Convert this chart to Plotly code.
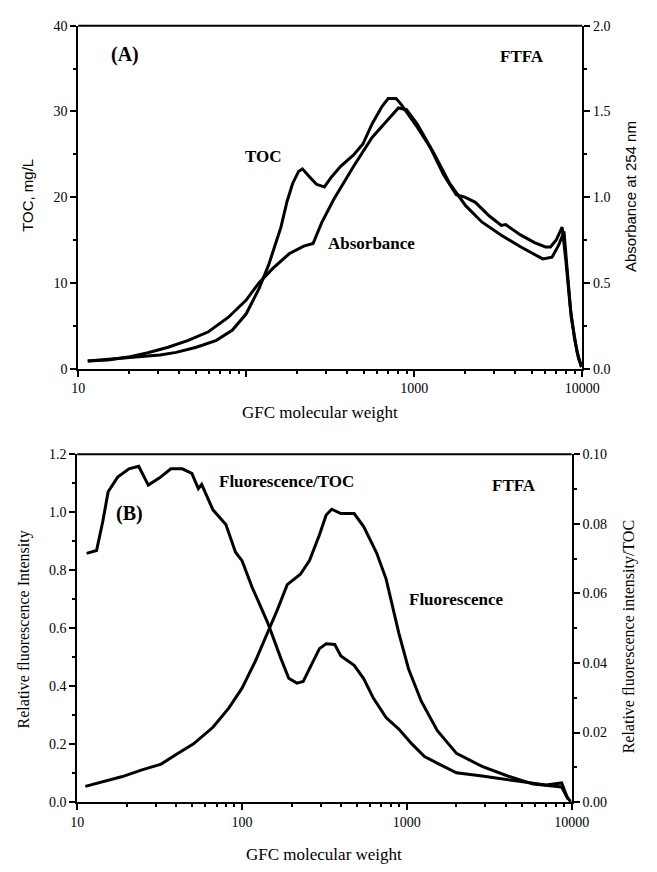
import plotly.graph_objects as go

# ---------------- Panel A data ----------------
toc_mw = [11.4, 15.8, 22, 30.7, 38.3, 50.5, 66.5, 82.8, 100, 119, 136, 152, 161, 175, 189, 205, 216,
          240, 262, 292, 320, 365, 434, 495, 563, 644, 700, 780, 838, 1047, 1245, 1496, 1778, 2000,
          2312, 2800, 3300, 3500, 4290, 5200, 6040, 6470, 7000, 7590, 8000, 8500, 9000, 9500, 9900]
toc_val = [0.9, 1.1, 1.35, 1.6, 1.9, 2.5, 3.3, 4.5, 6.4, 9.3, 12.1, 15.0, 16.5, 19.5, 21.6, 23.0, 23.3,
           22.3, 21.5, 21.2, 22.3, 23.6, 24.9, 26.2, 28.6, 30.6, 31.5, 31.5, 30.8, 28.1, 25.8, 22.6, 20.3, 20.0,
           19.4, 17.8, 16.7, 16.8, 15.6, 14.7, 14.2, 14.2, 15.0, 16.5, 12.5, 7.0, 3.5, 1.2, 0.2]

abs_mw = [11.4, 15, 19.8, 26, 34.3, 45.2, 59.6, 78.4, 100, 119, 144, 180, 220, 250, 281, 331, 434, 563,
          680, 805, 900, 1047, 1313, 1625, 2028, 2535, 3300, 4290, 5820, 6610, 7240, 7790, 8100, 8600,
          9300, 9900]
abs_val = [0.045, 0.05, 0.0675, 0.0925, 0.125, 0.165, 0.215, 0.30, 0.40, 0.50, 0.585, 0.67, 0.715, 0.73,
           0.85, 0.985, 1.177, 1.35, 1.44, 1.52, 1.51, 1.424, 1.253, 1.08, 0.949, 0.854, 0.778, 0.711,
           0.64, 0.65, 0.72, 0.80, 0.60, 0.30, 0.10, 0.01]

# ---------------- Panel B data ----------------
fl_mw = [11.2, 14.3, 18.8, 24.7, 32.3, 40.5, 50.8, 66.6, 83.3, 100, 120, 143, 164, 188, 226, 257, 295,
         324, 350, 398, 479, 547, 655, 748, 894, 1023, 1223, 1528, 2000, 2860, 4090, 5850, 7630, 8700,
         9300, 9900]
fl_val = [0.054, 0.071, 0.088, 0.111, 0.131, 0.167, 0.201, 0.258, 0.325, 0.393, 0.484, 0.585, 0.664,
          0.750, 0.786, 0.834, 0.922, 0.99, 1.01, 0.995, 0.995, 0.95, 0.86, 0.77, 0.583, 0.46, 0.348,
          0.247, 0.168, 0.123, 0.09, 0.062, 0.055, 0.052, 0.02, 0.0]

ft_mw = [11.4, 13.1, 14.3, 15.4, 17.6, 20.6, 23.6, 27, 31.6, 37, 43.4, 49.6, 54.3, 56.9, 66.6, 79.8,
         91.3, 100, 115, 143, 172, 192, 215, 235, 269, 295, 324, 365, 398, 479, 547, 626, 748, 894,
         1069, 1279, 1528, 2000, 2860, 4470, 6990, 8700, 9500]
ft_val = [0.0715, 0.0723, 0.0807, 0.0892, 0.0934, 0.0958, 0.0965, 0.0911, 0.0932, 0.0958, 0.0958,
          0.0945, 0.0901, 0.0913, 0.084, 0.0798, 0.0718, 0.0694, 0.0618, 0.0516, 0.0413, 0.0356, 0.0342,
          0.0347, 0.0403, 0.0441, 0.0455, 0.0453, 0.042, 0.0393, 0.0355, 0.0299, 0.0243, 0.021, 0.0168,
          0.0131, 0.0112, 0.0084, 0.0075, 0.0061, 0.0049, 0.0055, 0.0008]

x_major = [10, 100, 1000, 10000]
xa_text = ["10", "", "1000", "10000"]
xb_text = ["10", "100", "1000", "10000"]
x_minor = [m * d for d in (10, 100, 1000) for m in range(2, 10)]

W, H = 657, 872
SERIF = "Liberation Serif"
SANS = "Liberation Sans"
LINE = dict(color="black", width=3)

fig = go.Figure()
fig.add_trace(go.Scatter(x=toc_mw, y=toc_val, mode="lines", line=LINE, xaxis="x", yaxis="y", name="TOC"))
fig.add_trace(go.Scatter(x=abs_mw, y=abs_val, mode="lines", line=LINE, xaxis="x", yaxis="y2", name="Absorbance"))
fig.add_trace(go.Scatter(x=fl_mw, y=fl_val, mode="lines", line=LINE, xaxis="x2", yaxis="y3", name="Fluorescence"))
fig.add_trace(go.Scatter(x=ft_mw, y=ft_val, mode="lines", line=LINE, xaxis="x2", yaxis="y4", name="Fluorescence/TOC"))

def px(x):
    return x / W

def py(y):
    return 1 - y / H

tickfont = dict(family=SERIF, size=14, color="black")

def xaxis(dom, anchor, text):
    return dict(type="log", range=[1, 4], domain=dom, anchor=anchor,
                tickmode="array", tickvals=x_major, ticktext=text,
                ticks="outside", ticklen=6, tickwidth=1.5, tickcolor="black",
                minor=dict(tickmode="array", tickvals=x_minor, ticks="outside", ticklen=3,
                           tickwidth=1.5, tickcolor="black"),
                showline=True, linewidth=2, linecolor="black", mirror=False,
                showgrid=False, zeroline=False, tickfont=tickfont)

def yaxis(dom, anchor, rng, dtick, mdtick, fmt, side="left", overlay=None):
    d = dict(range=rng, domain=dom, anchor=anchor, side=side,
             tickmode="linear", tick0=0, dtick=dtick, tickformat=fmt,
             ticks="outside", ticklen=6, tickwidth=1.5, tickcolor="black",
             minor=dict(dtick=mdtick, tick0=0, ticks="outside", ticklen=3, tickwidth=1.5, tickcolor="black"),
             showline=True, linewidth=2, linecolor="black",
             showgrid=False, zeroline=False, tickfont=tickfont)
    if overlay:
        d["overlaying"] = overlay
    return d

domA_x = [px(74), px(598)]
domA_y = [py(368), py(19)]
domB_x = [px(73), px(587)]
domB_y = [py(809), py(455)]

fig.update_layout(
    width=W, height=H,
    margin=dict(l=0, r=0, t=0, b=0),
    paper_bgcolor="white", plot_bgcolor="white",
    showlegend=False,
    xaxis=xaxis(domA_x, "y", xa_text),
    yaxis=yaxis(domA_y, "x", [0, 40], 10, 5, "d"),
    yaxis2=yaxis(domA_y, "x", [0, 2.0], 0.5, 0.25, ".1f", side="right", overlay="y"),
    xaxis2=xaxis(domB_x, "y3", xb_text),
    yaxis3=yaxis(domB_y, "x2", [0, 1.2], 0.2, 0.1, ".1f"),
    yaxis4=yaxis(domB_y, "x2", [0, 0.10], 0.02, 0.01, ".2f", side="right", overlay="y3"),
)

# top borders of the two frames
shapes = []
for dx, dy in ((domA_x, domA_y), (domB_x, domB_y)):
    shapes.append(dict(type="line", xref="paper", yref="paper", x0=dx[0], x1=dx[1], y0=dy[1], y1=dy[1],
                       line=dict(color="black", width=2)))
fig.update_layout(shapes=shapes)

def ann(x, y, text, size=14, bold=False, family=SERIF, angle=0):
    t = f"<b>{text}</b>" if bold else text
    fig.add_annotation(x=px(x), y=py(y), xref="paper", yref="paper", text=t, showarrow=False,
                       textangle=angle, xanchor="center", yanchor="middle",
                       font=dict(family=family, size=size, color="black"))

# Panel A labels
ann(123, 48, "(A)", size=20, bold=True)
ann(267, 152, "TOC", size=17, bold=True)
ann(535, 50, "FTFA", size=17, bold=True)
ann(379, 241, "Absorbance", size=17, bold=True)
ann(325, 413, "GFC molecular weight", size=17)
ann(22, 192, "TOC, mg/L", size=15, family=SANS, angle=-90)
ann(648, 193, "Absorbance at 254 nm", size=15, family=SANS, angle=-90)

# Panel B labels
ann(127, 515, "(B)", size=20, bold=True)
ann(291, 483, "Fluorescence/TOC", size=17, bold=True)
ann(527, 487, "FTFA", size=17, bold=True)
ann(467, 603, "Fluorescence", size=17, bold=True)
ann(330, 862, "GFC molecular weight", size=17)
ann(18, 633, "Relative fluorescence Intensity", size=16, angle=-90)
ann(647, 641, "Relative fluorescence intensity/TOC", size=16, angle=-90)

fig.write_html("out.html")
